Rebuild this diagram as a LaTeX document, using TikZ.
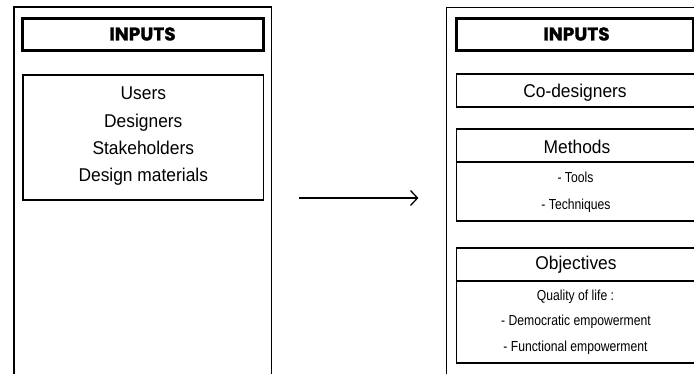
\documentclass[tikz,border=0pt]{standalone}
\usepackage{fontspec}
\setmainfont{Liberation Sans}[FakeStretch=0.94]
\newfontfamily\smallfont{Liberation Sans}[FakeStretch=0.84]
\newfontfamily\headfont{Poppins}[BoldFeatures={FakeBold=1.2}]
\tikzset{
  panel/.style={line width=1.4pt},
  headbox/.style={draw, line width=3pt, inner sep=0pt},
  itembox/.style={draw, line width=1.5pt, inner sep=0pt},
  bigtext/.style={anchor=base, inner sep=0pt, font=\fontsize{18.5}{18.5}\selectfont},
  smalltext/.style={anchor=base, inner sep=0pt, font=\smallfont\fontsize{14.5}{14.5}\selectfont},
  headtext/.style={anchor=base, inner sep=0pt, font=\headfont\bfseries\fontsize{18.5}{18.5}\selectfont},
  flow/.style={line width=1.3pt},
  chevron/.style={line width=1.3pt, line join=miter}
}
\begin{document}
\begin{tikzpicture}[x=1pt,y=-1pt]
\clip (0,0) rectangle (694,374);

% ---------- left column ----------
\coordinate (lbl) at (14,380);
\coordinate (ltl) at (14,7);
\coordinate (ltr) at (271.3,7);
\coordinate (lbr) at (271.3,380);
\draw[panel] (lbl) -- (ltl) -- (ltr) -- (lbr);

\node[headbox, minimum width=240.6pt, minimum height=32.3pt] (lhead) at (143,34.2) {};
\node[headtext] (lheadtxt) at (142.5,40.5) {INPUTS};

\node[itembox, minimum width=240.3pt, minimum height=125pt] (lbox) at (143.2,137.5) {};
\node[bigtext] (users) at (143.3,100) {Users};
\node[bigtext] (designers) at (143.3,127.2) {Designers};
\node[bigtext] (stake) at (143.3,154.5) {Stakeholders};
\node[bigtext] (materials) at (143.3,181.7) {Design materials};

% ---------- arrow: shaft plus open chevron head ----------
\coordinate (arrowfrom) at (299,198);
\coordinate (arrowto) at (417.5,198);
\draw[flow] (arrowfrom) -- (arrowto);
\draw[chevron] (arrowto) ++(-7,-7.5) -- (arrowto) -- ++(-7,7.5);

% ---------- right column ----------
\coordinate (rbl) at (446.7,380);
\coordinate (rtl) at (446.7,7.3);
\coordinate (rtr) at (710,7.3);
\draw[panel] (rbl) -- (rtl) -- (rtr);

\node[headbox, minimum width=236.6pt, minimum height=32.3pt] (rhead) at (575,34.2) {};
\node[headtext] (rheadtxt) at (576.5,40.5) {INPUTS};

\node[itembox, minimum width=241.5pt, minimum height=33pt] (codes) at (577.25,90.5) {};
\node[bigtext] (codestxt) at (575,97.3) {Co-designers};

\node[itembox, minimum width=241.5pt, minimum height=33pt] (methhead) at (577.25,145.5) {};
\node[itembox, minimum width=241.5pt, minimum height=59pt] (methbody) at (577.25,191.5) {};
\node[bigtext] (methtxt) at (577,154) {Methods};
\node[smalltext] (tools) at (575.5,182.7) {- Tools};
\node[smalltext] (techniques) at (576,209.5) {- Techniques};

\node[itembox, minimum width=241.5pt, minimum height=33pt] (objhead) at (577.25,264.5) {};
\node[itembox, minimum width=241.5pt, minimum height=82pt] (objbody) at (577.25,322) {};
\node[bigtext] (objtxt) at (576,269.3) {Objectives};
\node[smalltext] (quality) at (575.5,300.5) {Quality of life :};
\node[smalltext] (democratic) at (576,326) {- Democratic empowerment};
\node[smalltext] (functional) at (575.5,351.5) {- Functional empowerment};
\end{tikzpicture}
\end{document}
